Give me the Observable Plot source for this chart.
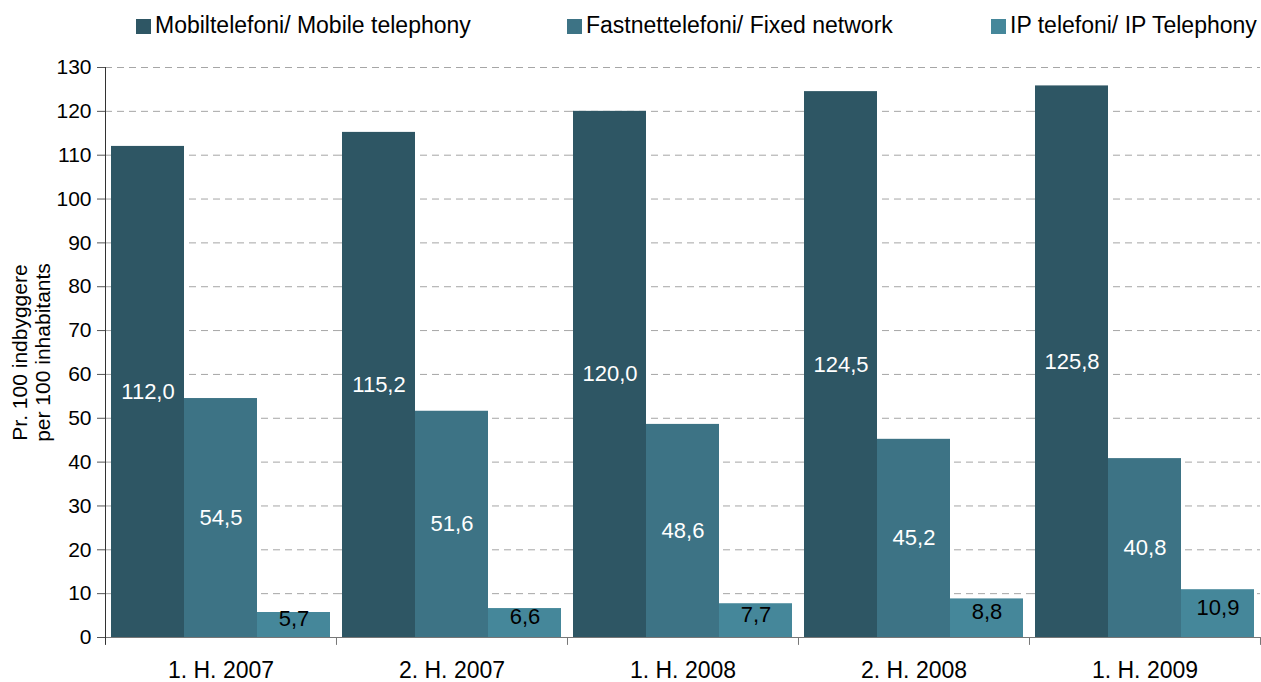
<!DOCTYPE html>
<html><head><meta charset="utf-8">
<script src="https://cdn.jsdelivr.net/npm/d3@7"></script>
<script src="https://cdn.jsdelivr.net/npm/@observablehq/plot@0.6"></script>
<style>
body{margin:0;background:#fff;font-family:"Liberation Sans",Arial,sans-serif;}
#legend{position:relative;height:45px;width:1261px;}
.sw{position:absolute;top:19px;width:15px;height:15px;}
.lt{position:absolute;top:12px;font-size:23px;line-height:26px;color:#000;white-space:nowrap;}
</style>
</head><body>
<div id="legend"></div>
<div id="chart"></div>
<script>
const periods = ["1. H. 2007","2. H. 2007","1. H. 2008","2. H. 2008","1. H. 2009"];
const series = ["Mobiltelefoni/ Mobile telephony","Fastnettelefoni/ Fixed network","IP telefoni/ IP Telephony"];
const mobile = [112.0,115.2,120.0,124.5,125.8];
const fixed = [54.5,51.6,48.6,45.2,40.8];
const ip = [5.7,6.6,7.7,8.8,10.9];
const yTicks = [0,10,20,30,40,50,60,70,80,90,100,110,120,130];
const gridTicks = [10,20,30,40,50,60,70,80,90,100,110,120,130];
const colors = ["#2e5664","#3d7385","#45879a"];
const yTitle = "Pr. 100 indbyggere\nper 100 inhabitants";
const legendX = [136,567,991];

const fmt = v => v.toFixed(1).replace(".", ",");
const data = periods.flatMap((p,i)=>[mobile,fixed,ip].map((arr,j)=>({period:p, series:series[j], value:arr[i]})));

// legend
const lg = document.getElementById("legend");
series.forEach((s,i)=>{
  const sw = document.createElement("div"); sw.className="sw";
  sw.style.left = legendX[i]+"px"; sw.style.background = colors[i];
  const t = document.createElement("div"); t.className="lt";
  t.style.left = (legendX[i]+19)+"px"; t.textContent = s;
  lg.appendChild(sw); lg.appendChild(t);
});

const W=1261, H=637, ML=105, MR=1, MT=22, MB=45;
const P_OUT = 0.082;
const facetW = (W-ML-MR)/periods.length;
const step = facetW/(series.length + 2*P_OUT);
const edge = step/2 + P_OUT*step;

const chart = Plot.plot({
  width:W, height:H, marginLeft:ML, marginRight:MR, marginTop:MT, marginBottom:MB,
  style:{fontFamily:"'Liberation Sans', Arial, sans-serif", fontSize:"21px", background:"#fff", color:"#000", overflow:"visible"},
  fx:{domain:periods, padding:0, label:null},
  x:{domain:series, paddingInner:0, paddingOuter:P_OUT, axis:null},
  y:{domain:[0,130]},
  color:{domain:series, range:colors},
  marks:[
    Plot.gridY(gridTicks, {stroke:"#a6a6a6", strokeOpacity:1, strokeDasharray:"7,5"}),
    Plot.barY(data,{fx:"period", x:"series", y:"value", fill:"series"}),
    Plot.ruleY([0],{stroke:"#777"}),
    Plot.ruleX(periods, {fx:d=>d, x:()=>series[2], dx:edge, y1:0, y2:-1.8, stroke:"#777"}),
    Plot.ruleX([periods[0]], {fx:d=>d, x:()=>series[0], dx:-edge, y1:-1.8, y2:130, stroke:"#333"}),
    Plot.text(data.filter(d=>d.series!==series[2]), {fx:"period", x:"series", y:d=>d.value/2, text:d=>fmt(d.value), fill:"white", fontSize:22}),
    Plot.text(data.filter(d=>d.series===series[2]), {fx:"period", x:"series", y:d=>d.value/2, text:d=>fmt(d.value), fill:"black", fontSize:22, dy:-6}),
    Plot.text([yTitle], {fx:()=>periods[0], frameAnchor:"left", textAnchor:"middle", dx:-74, rotate:-90, fontSize:21, lineHeight:1.1, fill:"black"}),
    Plot.axisY({ticks:yTicks, tickSize:8, tickPadding:6, fontSize:21, label:null, stroke:"#555"}),
    Plot.axisFx({anchor:"bottom", tickSize:0, tickPadding:24, fontSize:23, label:null})
  ]
});
document.getElementById("chart").appendChild(chart);
</script>
</body></html>
